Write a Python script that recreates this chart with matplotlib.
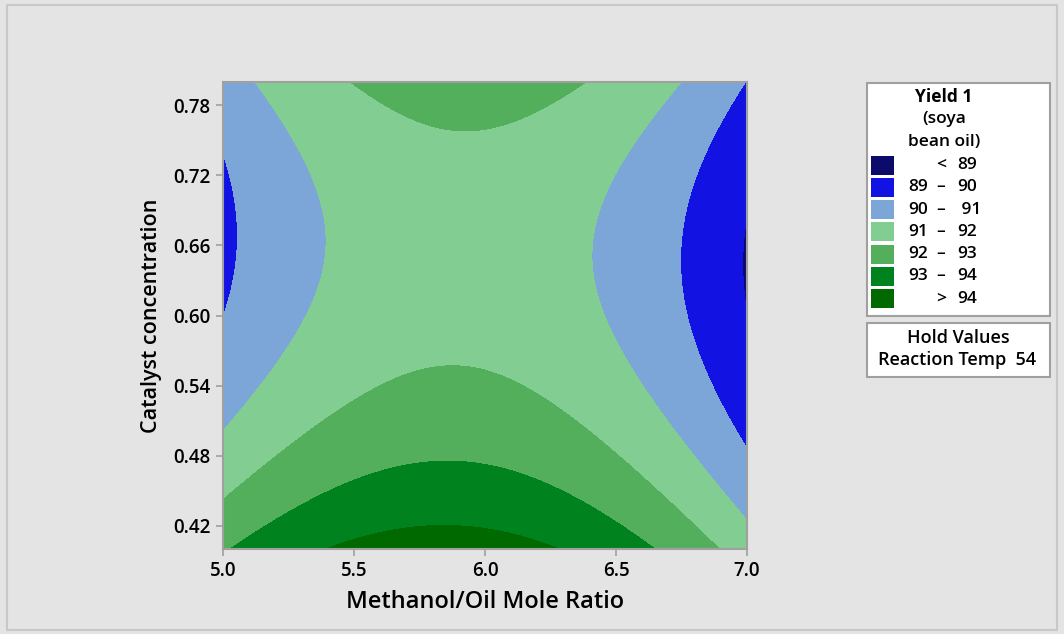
import numpy as np
import matplotlib.pyplot as plt
from matplotlib.patches import Rectangle

plt.rcParams['font.family'] = ['Open Sans', 'DejaVu Sans']

# points traced along each contour line of the reference (x = mole ratio, y = catalyst)
lvl89_x = [6.985, 7.0, 7.0]
lvl89_y = [0.650, 0.684, 0.614]
lvl90_x = [5.0, 5.057, 5.0, 6.992, 6.847, 6.775, 6.744, 6.771, 6.809, 6.870, 7.0]
lvl90_y = [0.737, 0.659, 0.599, 0.800, 0.744, 0.699, 0.654, 0.603, 0.577, 0.543, 0.487]
lvl91_x = [5.122, 5.282, 5.378, 5.389, 5.351, 5.282, 5.244, 5.168, 5.0,
           6.752, 6.565, 6.447, 6.408, 6.427, 6.477, 6.565, 6.695, 6.870, 7.0]
lvl91_y = [0.800, 0.744, 0.696, 0.659, 0.614, 0.586, 0.571, 0.548, 0.501,
           0.800, 0.746, 0.701, 0.654, 0.620, 0.586, 0.548, 0.509, 0.458, 0.424]
lvl92_x = [5.485, 5.702, 5.969, 6.21, 6.382,
           5.0, 5.599, 5.855, 5.981, 6.145, 6.298, 6.489, 6.695, 6.870]
lvl92_y = [0.800, 0.769, 0.757, 0.776, 0.800,
           0.441, 0.539, 0.556, 0.552, 0.539, 0.517, 0.486, 0.446, 0.402]
lvl93_x = [5.038, 5.42, 5.573, 5.855, 5.981, 6.145, 6.298, 6.489, 6.63]
lvl93_y = [0.402, 0.452, 0.466, 0.475, 0.472, 0.463, 0.449, 0.426, 0.402]
lvl94_x = [5.42, 5.573, 5.855, 5.981, 6.275]
lvl94_y = [0.402, 0.413, 0.421, 0.419, 0.402]

levels = [89, 90, 91, 92, 93, 94]
colors = ['#0c0a6b', '#1212e3', '#7ca6d8', '#82cd91', '#54af5c', '#00831f', '#006a00']
leg_labels = [('', '<', '89'), ('89', '\u2013', '90'), ('90', '\u2013', ' 91'),
              ('91', '\u2013', '92'), ('92', '\u2013', '93'), ('93', '\u2013', '94'),
              ('', '>', '94')]

# fit a second order response surface through the traced contour points
px, py, pz = [], [], []
for lv, xs, ys in zip(levels, [lvl89_x, lvl90_x, lvl91_x, lvl92_x, lvl93_x, lvl94_x],
                      [lvl89_y, lvl90_y, lvl91_y, lvl92_y, lvl93_y, lvl94_y]):
    px += xs; py += ys; pz += [lv] * len(xs)
px, py, pz = np.array(px), np.array(py), np.array(pz, float)
u, v = px - 6, (py - 0.6) * 10
A = np.column_stack([np.ones_like(u), u, v, u**2, v**2, u * v])
coef = np.linalg.lstsq(A, pz, rcond=None)[0]

xg = np.linspace(5, 7, 300)
yg = np.linspace(0.40, 0.80, 300)
X, Y = np.meshgrid(xg, yg)
U, V = X - 6, (Y - 0.6) * 10
Z = coef[0] + coef[1]*U + coef[2]*V + coef[3]*U**2 + coef[4]*V**2 + coef[5]*U*V

fig = plt.figure(figsize=(10.64, 6.34), dpi=100, facecolor='#e4e4e4')
fig.patches.append(Rectangle((7/1064, 4/634), 1050/1064, 625/634, transform=fig.transFigure,
                             fill=False, edgecolor='#c8c8c8', lw=1.5))
ax = fig.add_axes([223/1064, 1 - 549/634, 524/1064, 467/634])
ax.contourf(X, Y, Z, levels=[0] + levels + [200], colors=colors)
ax.set_xlim(5, 7)
ax.set_ylim(0.40, 0.80)
ax.set_xticks([5.0, 5.5, 6.0, 6.5, 7.0])
ax.set_xticklabels(['5.0', '5.5', '6.0', '6.5', '7.0'], fontweight='semibold')
ax.set_yticks([0.42, 0.48, 0.54, 0.60, 0.66, 0.72, 0.78])
ax.set_yticklabels(['0.42', '0.48', '0.54', '0.60', '0.66', '0.72', '0.78'], fontweight='semibold')
ax.tick_params(labelsize=13.5, length=5, width=1.2, color='#a0a0a0', pad=4)
for s in ax.spines.values():
    s.set_color('#a0a0a0')
    s.set_linewidth(1.5)
ax.set_xlabel('Methanol/Oil Mole Ratio', fontsize=17, fontweight='semibold', labelpad=6)
ax.set_ylabel('Catalyst concentration', fontsize=15.5, fontweight='semibold', labelpad=8)

# legend panel
def fx(p): return p / 1064
def fy(p): return 1 - p / 634

fig.patches.append(Rectangle((fx(867), fy(316)), fx(183), 233/634, transform=fig.transFigure,
                             facecolor='white', edgecolor='#a0a0a0', lw=1.5))
fig.text(fx(944), fy(97), 'Yield 1', ha='center', va='center', fontsize=12.5, fontweight='bold')
fig.text(fx(944), fy(119), '(soya', ha='center', va='center', fontsize=12.5, fontweight='semibold')
fig.text(fx(944), fy(142), 'bean oil)', ha='center', va='center', fontsize=12.5, fontweight='semibold')
for i, (c, lab) in enumerate(zip(colors, leg_labels)):
    yc = 165 + i * 22.3
    fig.patches.append(Rectangle((fx(871), fy(yc + 9.5)), fx(23), 19/634, transform=fig.transFigure,
                                 facecolor=c, edgecolor='none'))
    fig.text(fx(928), fy(yc), lab[0], ha='right', va='center', fontsize=12.5, fontweight='semibold')
    fig.text(fx(941), fy(yc), lab[1], ha='center', va='center', fontsize=12.5, fontweight='semibold')
    fig.text(fx(957), fy(yc), lab[2], ha='left', va='center', fontsize=12.5, fontweight='semibold')

fig.patches.append(Rectangle((fx(867), fy(377)), fx(183), 54/634, transform=fig.transFigure,
                             facecolor='white', edgecolor='#a0a0a0', lw=1.5))
fig.text(fx(958), fy(338), 'Hold Values', ha='center', va='center', fontsize=13, fontweight='semibold')
fig.text(fx(957), fy(360), 'Reaction Temp  54', ha='center', va='center', fontsize=13, fontweight='semibold')

fig.savefig('out.png', dpi=100, facecolor=fig.get_facecolor())
